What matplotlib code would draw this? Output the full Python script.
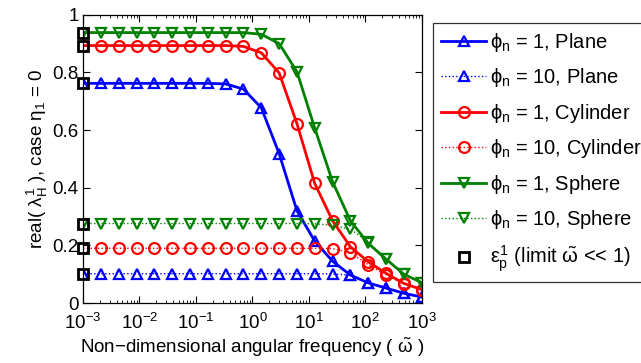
import matplotlib
matplotlib.use("Agg")
import matplotlib.pyplot as plt
from matplotlib.ticker import LogLocator, NullFormatter

plt.rcParams['font.family'] = ['Liberation Sans', 'DejaVu Sans']
plt.rcParams['mathtext.fontset'] = 'custom'
plt.rcParams['mathtext.rm'] = 'Liberation Sans'
plt.rcParams['mathtext.it'] = 'Liberation Sans'
plt.rcParams['mathtext.bf'] = 'Liberation Sans:bold'

# frequency grid (20 log-spaced points from 1e-3 to 1e3)
omega = [0.001, 0.00207, 0.00428, 0.00886, 0.0183, 0.0379, 0.0785, 0.162,
         0.336, 0.695, 1.44, 2.98, 6.16, 12.7, 26.4, 54.6, 113, 234, 483, 1000]

plane_1 = [0.762, 0.762, 0.762, 0.762, 0.762, 0.762, 0.762, 0.762, 0.760, 0.742,
           0.677, 0.518, 0.320, 0.215, 0.145, 0.097, 0.070, 0.052, 0.034, 0.021]
plane_10 = [0.102, 0.102, 0.102, 0.102, 0.102, 0.102, 0.102, 0.102, 0.102, 0.102,
            0.102, 0.102, 0.102, 0.102, 0.101, 0.097, 0.070, 0.052, 0.034, 0.021]
cyl_1 = [0.893, 0.893, 0.893, 0.893, 0.893, 0.893, 0.893, 0.893, 0.893, 0.890,
         0.868, 0.798, 0.622, 0.415, 0.285, 0.195, 0.143, 0.103, 0.068, 0.047]
cyl_10 = [0.190, 0.190, 0.190, 0.190, 0.190, 0.190, 0.190, 0.190, 0.190, 0.190,
          0.190, 0.190, 0.190, 0.190, 0.189, 0.175, 0.133, 0.098, 0.067, 0.046]
sph_1 = [0.938, 0.938, 0.938, 0.938, 0.938, 0.938, 0.938, 0.938, 0.938, 0.938,
         0.932, 0.900, 0.802, 0.607, 0.420, 0.285, 0.207, 0.152, 0.100, 0.071]
sph_10 = [0.276, 0.276, 0.276, 0.276, 0.276, 0.276, 0.276, 0.276, 0.276, 0.276,
          0.276, 0.276, 0.276, 0.275, 0.270, 0.256, 0.212, 0.152, 0.100, 0.071]

eps_x = [0.001, 0.001, 0.001, 0.001, 0.001, 0.001]
eps_vals = [0.762, 0.893, 0.938, 0.102, 0.190, 0.276]

labels = [r'$\phi_n$ = 1, Plane', r'$\phi_n$ = 10, Plane',
          r'$\phi_n$ = 1, Cylinder', r'$\phi_n$ = 10, Cylinder',
          r'$\phi_n$ = 1, Sphere', r'$\phi_n$ = 10, Sphere',
          r'$\epsilon_p^1$ (limit $\tilde{\omega}$ << 1)']

xticks = [1e-3, 1e-2, 1e-1, 1e0, 1e1, 1e2, 1e3]
yticks = [0, 0.2, 0.4, 0.6, 0.8, 1]
ytick_labels = ['0', '0.2', '0.4', '0.6', '0.8', '1']

blue = (0, 0, 1)
red = (1, 0, 0)
green = (0, 0.5, 0)

fig = plt.figure(figsize=(6.41, 3.63), dpi=100)
ax = fig.add_axes([0.1295, 0.165, 0.5285, 0.7945])

ms = 7.8
mew = 1.6
lw = 2.0
ax.plot(omega, plane_1, '-', color=blue, marker='^', ms=ms, mfc='none', mew=mew, lw=lw, label=labels[0])
ax.plot(omega, plane_10, ':', color=blue, marker='^', ms=ms, mfc='none', mew=mew, lw=1.0, label=labels[1])
ax.plot(omega, cyl_1, '-', color=red, marker='o', ms=ms, mfc='none', mew=mew, lw=lw, label=labels[2])
ax.plot(omega, cyl_10, ':', color=red, marker='o', ms=ms, mfc='none', mew=mew, lw=1.0, label=labels[3])
ax.plot(omega, sph_1, '-', color=green, marker='v', ms=ms, mfc='none', mew=mew, lw=lw, label=labels[4])
ax.plot(omega, sph_10, ':', color=green, marker='v', ms=ms, mfc='none', mew=mew, lw=1.0, label=labels[5])
ax.plot(eps_x, eps_vals, linestyle='none', marker='s', ms=6.5, mfc='none', mec='black',
        mew=2.0, label=labels[6], clip_on=False, zorder=5)

ax.set_xscale('log')
ax.set_xlim(1e-3, 1e3)
ax.set_ylim(0, 1)
ax.set_xticks(xticks)
ax.xaxis.set_minor_locator(LogLocator(base=10, subs=range(2, 10), numticks=20))
ax.xaxis.set_minor_formatter(NullFormatter())
ax.set_yticks(yticks)
ax.set_yticklabels(ytick_labels)
ax.tick_params(which='both', direction='in', top=True, right=True, labelsize=13.5)
ax.tick_params(axis='x', pad=7)
ax.tick_params(axis='y', pad=3)
ax.tick_params(which='major', length=5)
ax.tick_params(which='minor', length=2.5)
for s in ax.spines.values():
    s.set_linewidth(0.9)

ax.set_xlabel(r'Non$-$dimensional angular frequency ( $\tilde{\omega}$ )', fontsize=13.5, labelpad=2)
ax.set_ylabel(r'real( $\lambda_H^1$ ), case $\eta_1$ = 0', fontsize=13.5, labelpad=2)

leg = fig.legend(loc='upper left', bbox_to_anchor=(0.676, 0.9375), fontsize=14.5,
                 frameon=True, fancybox=False, edgecolor='black', handlelength=2.2,
                 handletextpad=0.2, labelspacing=0.62, borderpad=0.4, borderaxespad=0)
leg.get_frame().set_linewidth(0.9)

fig.savefig('out.png', dpi=100)
